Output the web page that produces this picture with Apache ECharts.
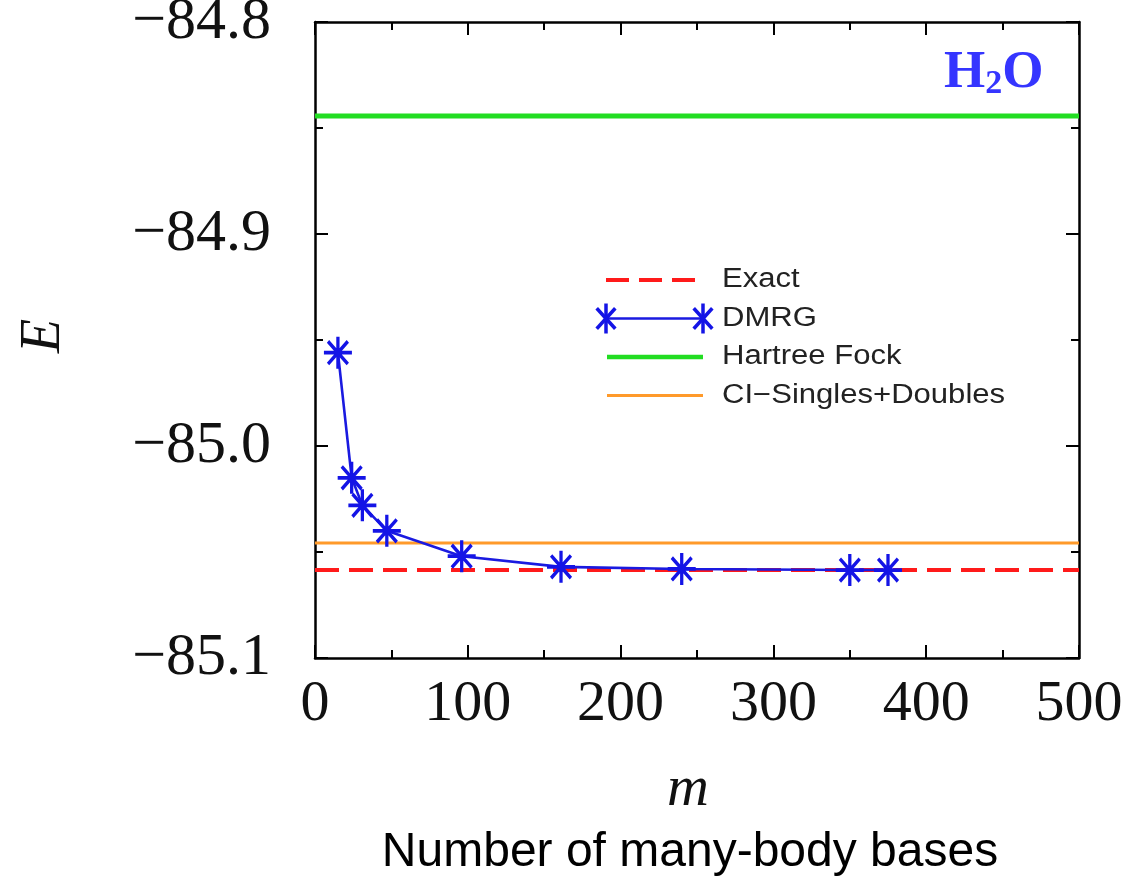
<!DOCTYPE html>
<html><head><meta charset="utf-8">
<script src="https://cdn.jsdelivr.net/npm/echarts@6/dist/echarts.min.js"></script>
<style>html,body{margin:0;padding:0;background:#fff}#c{width:1131px;height:878px}</style>
</head><body><div id="c"></div>
<script>
const mValues = [15, 24, 31, 47, 96, 161, 240, 350, 375];
const dmrgE = [-84.956, -85.015, -85.028, -85.040, -85.052, -85.057, -85.058, -85.0585, -85.0585];
const exactE = -85.0585;
const hartreeFockE = -84.8443;
const cisdE = -85.0457;
const xRange = [0, 500];
const yTicks = [-85.1, -85.0, -84.9, -84.8];
const legendNames = ['Exact', 'DMRG', 'Hartree Fock', 'CI\u2212Singles+Doubles'];

const star = 'path://M0,-10L0,10M-10,0L10,0M-7.07,-7.07L7.07,7.07M-7.07,7.07L7.07,-7.07';
const serif = '"Liberation Serif","DejaVu Serif",serif';
const sans = '"Liberation Sans","DejaVu Sans",sans-serif';

const chart = echarts.init(document.getElementById('c'));
const axisLine = {show: true, onZero: false, lineStyle: {color: '#000', width: 2.5}};
const tick = {show: true, inside: true, length: 13, lineStyle: {color: '#000', width: 2}};
const minor = {show: true, splitNumber: 2, length: 8, lineStyle: {color: '#000', width: 2}};
const fmtY = v => (v < 0 ? '\u2212' : '') + Math.abs(v).toFixed(1);

function hline(name, val, color, width, type, z) {
  return {name, type: 'line', data: [[xRange[0], val], [xRange[1], val]], symbol: 'none',
    lineStyle: {color, width, type}, z, silent: true, animation: false};
}

const legendY0 = 280, legendDy = 38.5;
const legendGraphics = [];
legendNames.forEach((n, i) => {
  const y = legendY0 + i * legendDy;
  legendGraphics.push({type: 'text', x: 722, y: y, scaleX: 1.15,
    style: {text: n, font: '27px ' + sans, fill: '#222', verticalAlign: 'middle', align: 'left'}});
});
legendGraphics.push({type: 'line', shape: {x1: 606, y1: legendY0, x2: 697, y2: legendY0},
  style: {stroke: '#ff1a1a', lineWidth: 4, lineDash: [23, 10]}});
legendGraphics.push({type: 'line', shape: {x1: 605, y1: legendY0 + legendDy, x2: 703, y2: legendY0 + legendDy},
  style: {stroke: '#1a1ae0', lineWidth: 2.5}});
[606, 703].forEach(cx => {
  const cy = legendY0 + legendDy, r = 15, d = r * 0.62;
  legendGraphics.push({type: 'polyline', shape: {points: [[cx, cy - r], [cx, cy + r]]}, style: {stroke: '#1414e6', lineWidth: 3.5}});
  legendGraphics.push({type: 'polyline', shape: {points: [[cx - d, cy - d * 1.1], [cx + d, cy + d * 1.1]]}, style: {stroke: '#1414e6', lineWidth: 3.5}});
  legendGraphics.push({type: 'polyline', shape: {points: [[cx - d, cy + d * 1.1], [cx + d, cy - d * 1.1]]}, style: {stroke: '#1414e6', lineWidth: 3.5}});
});
legendGraphics.push({type: 'line', shape: {x1: 607, y1: legendY0 + 2 * legendDy, x2: 703, y2: legendY0 + 2 * legendDy},
  style: {stroke: '#22dd22', lineWidth: 4.5}});
legendGraphics.push({type: 'line', shape: {x1: 607, y1: legendY0 + 3 * legendDy, x2: 703, y2: legendY0 + 3 * legendDy},
  style: {stroke: '#ff9a2a', lineWidth: 3}});

chart.setOption({
  animation: false,
  backgroundColor: '#fff',
  grid: {left: 315, right: 52, top: 22, bottom: 220, containLabel: false, outerBoundsMode: 'none'},
  xAxis: [
    {type: 'value', position: 'bottom', min: xRange[0], max: xRange[1], interval: 100,
      axisLine, axisTick: tick, minorTick: minor, splitLine: {show: false},
      axisLabel: {show: true, margin: 18, color: '#111', fontFamily: serif, fontSize: 58}},
    {type: 'value', position: 'top', min: xRange[0], max: xRange[1], interval: 100,
      axisLine, axisTick: tick, minorTick: minor, splitLine: {show: false}, axisLabel: {show: false}}
  ],
  yAxis: [
    {type: 'value', position: 'left', min: yTicks[0], max: yTicks[yTicks.length - 1], interval: 0.1,
      axisLine, axisTick: tick, minorTick: minor, splitLine: {show: false},
      axisLabel: {show: true, margin: 44, color: '#111', fontFamily: serif, fontSize: 60, formatter: fmtY}},
    {type: 'value', position: 'right', min: yTicks[0], max: yTicks[yTicks.length - 1], interval: 0.1,
      axisLine, axisTick: tick, minorTick: minor, splitLine: {show: false}, axisLabel: {show: false}}
  ],
  series: [
    hline('CI-Singles+Doubles', cisdE, '#ff9a2a', 3, 'solid', 2),
    hline('Hartree Fock', hartreeFockE, '#22dd22', 5, 'solid', 2),
    {name: 'DMRG', type: 'line', data: mValues.map((m, i) => [m, dmrgE[i]]),
      symbol: star, symbolSize: [28, 32],
      itemStyle: {color: 'rgba(0,0,0,0)', borderColor: '#1414e6', borderWidth: 3.5},
      lineStyle: {color: '#1a1ae0', width: 2.6}, z: 5, animation: false},
    hline('Exact', exactE, '#ff1a1a', 4, [24, 10], 4)
  ],
  graphic: [
    {type: 'text', left: 944, top: 47, z: 10,
      style: {text: '{a|H}{b|2}{a|O}', fill: '#3535ff',
        rich: {a: {font: 'bold 53px ' + serif, fill: '#3535ff'},
               b: {font: 'bold 34px ' + serif, fill: '#3535ff', verticalAlign: 'bottom', padding: [22, 0, 0, 0]}}}},
    {type: 'text', x: 44, y: 336, rotation: Math.PI / 2, z: 10,
      style: {text: 'E', font: 'italic 56px ' + serif, fill: '#111', align: 'center', verticalAlign: 'middle'}},
    {type: 'text', x: 688, y: 790, z: 10,
      style: {text: 'm', font: 'italic 58px ' + serif, fill: '#111', align: 'center', verticalAlign: 'middle'}},
    {type: 'text', x: 690, y: 853, z: 10,
      style: {text: 'Number of many-body bases', font: '48px ' + sans, fill: '#000', align: 'center', verticalAlign: 'middle'}},
    ...legendGraphics
  ]
});
</script></body></html>
